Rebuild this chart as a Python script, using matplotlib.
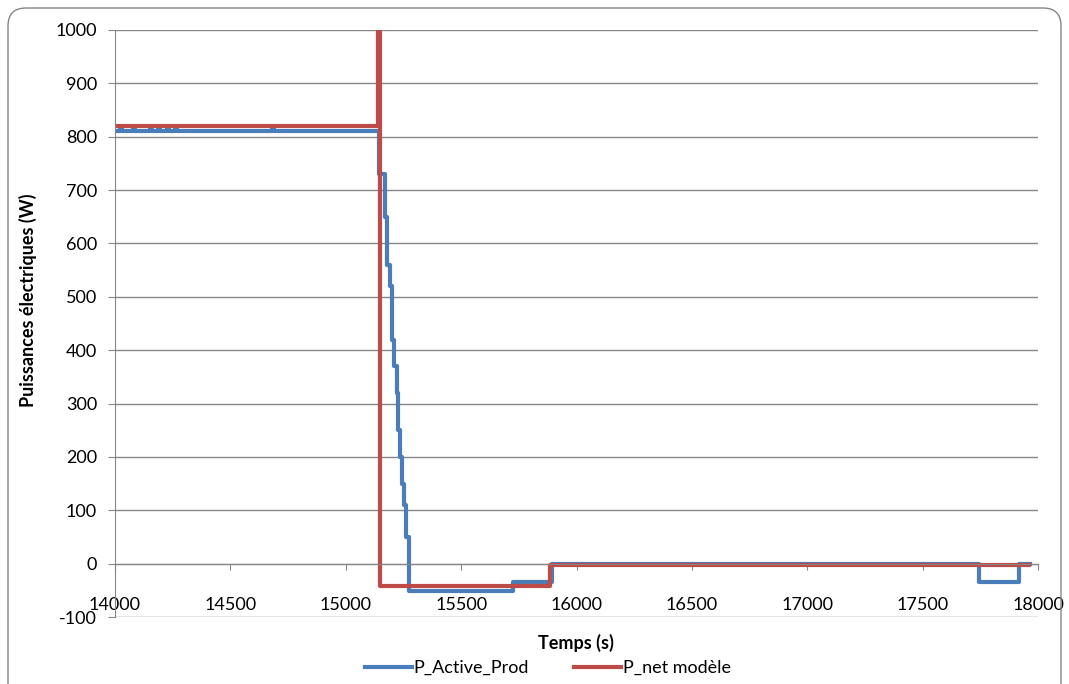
import matplotlib
matplotlib.use("Agg")
from matplotlib import pyplot as plt
from matplotlib.patches import FancyBboxPatch

# P_Active_Prod (measured), step data
prod_t = [14000, 14022, 14032, 14078, 14088, 14152, 14160, 14186, 14194, 14225, 14233,
          14260, 14268, 14680, 14688, 15142, 15170, 15180, 15190, 15200, 15210, 15220,
          15228, 15236, 15244, 15252, 15262, 15272, 15725, 15893, 17745, 17917, 17965]
prod_p = [810, 815, 810, 815, 810, 815, 810, 815, 810, 815, 810,
          815, 810, 815, 810, 730, 650, 560, 520, 420, 370, 320,
          250, 200, 150, 110, 50, -52, -35, 0, -35, 0, 0]

# P_net modele
model_t = [14000, 15140, 15148, 15885, 17960]
model_p = [820, 1200, -42, -3, -3]

xticks = [14000, 14500, 15000, 15500, 16000, 16500, 17000, 17500, 18000]
yticks = list(range(-100, 1001, 100))

plt.rcParams['font.family'] = ['Lato', 'DejaVu Sans']
plt.rcParams['axes.unicode_minus'] = False
grey = "#868686"

fig = plt.figure(figsize=(10.69, 6.84), dpi=100)
ax = fig.add_axes([115 / 1069, 1 - 617 / 684, (1038 - 115) / 1069, (617 - 30) / 684])

ax.plot(prod_t, prod_p, drawstyle="steps-post", color="#4A7EBB", lw=3.0,
        label="P_Active_Prod")
ax.plot(model_t, model_p, drawstyle="steps-post", color="#BE4B48", lw=3.0,
        label="P_net modèle")

ax.set_xlim(14000, 18000)
ax.set_ylim(-100, 1000)
ax.set_xticks(xticks)
ax.set_yticks(yticks)
ax.grid(axis="y", color=grey, lw=1)
ax.set_axisbelow(True)

for s in ["top", "right"]:
    ax.spines[s].set_visible(False)
ax.spines["bottom"].set_position(("data", 0))
ax.spines["bottom"].set_color(grey)
ax.spines["left"].set_color(grey)
ax.tick_params(axis="x", direction="out", length=4, color=grey, pad=20, labelsize=13)
ax.tick_params(axis="y", direction="out", length=5, color=grey, pad=8, labelsize=13)

fig.text(576 / 1069, 1 - 643 / 684, "Temps (s)", ha="center", va="center",
         fontsize=13, fontweight="bold")
fig.text(28 / 1069, 1 - 300 / 684, "Puissances électriques (W)", ha="center", va="center",
         rotation=90, fontsize=13, fontweight="bold")

fig.legend(loc="center", bbox_to_anchor=(548 / 1069, 1 - 668 / 684), ncol=2,
           frameon=False, fontsize=13, handlelength=2.6, columnspacing=2.5,
           handletextpad=0.1)

# rounded chart-area border (display coords, origin bottom-left)
frame = FancyBboxPatch((8, -20), 1053, 696, boxstyle="round,pad=0,rounding_size=18",
                       transform=None, fill=False, edgecolor=grey, lw=1)
fig.patches.append(frame)

fig.savefig("out.png", dpi=100)
